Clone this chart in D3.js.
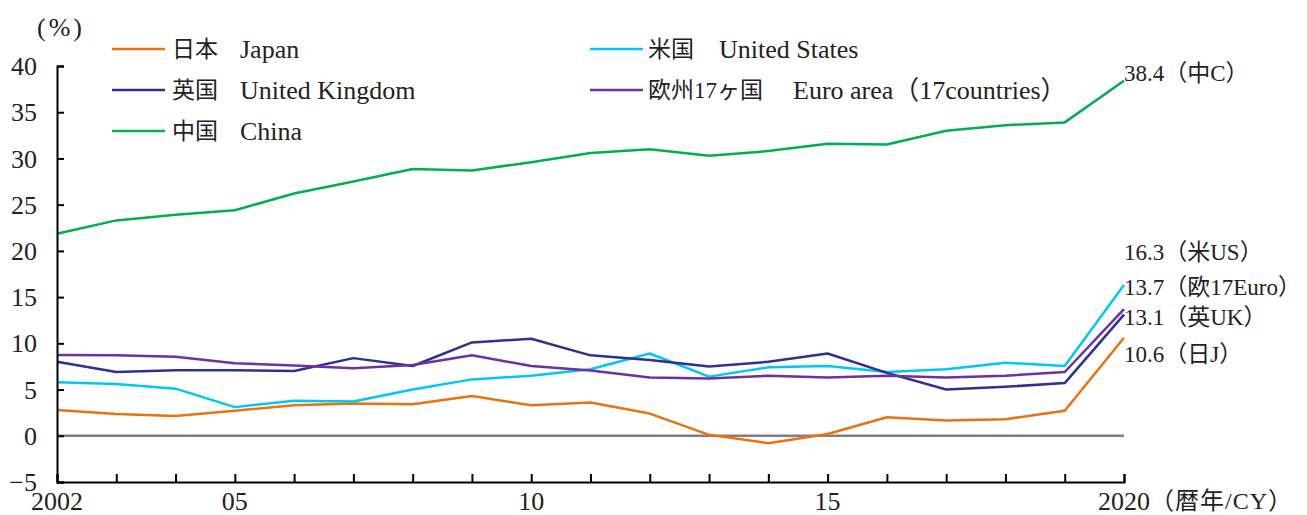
<!DOCTYPE html>
<html>
<head>
<meta charset="utf-8">
<script src="https://cdn.jsdelivr.net/npm/d3@7"></script>
<style>
  body { margin: 0; background: #fff; }
  svg text { font-family: "Liberation Serif", "Times New Roman", "DejaVu Serif", "Noto Sans CJK JP", serif; fill: #222; }
</style>
</head>
<body>
<div id="chart"></div>
<script>
// 年 (暦年)
const years = [2002, 2003, 2004, 2005, 2006, 2007, 2008, 2009, 2010, 2011, 2012, 2013, 2014, 2015, 2016, 2017, 2018, 2019, 2020];
// 系列の値 (%)
const japan = [2.8, 2.35, 2.15, 2.7, 3.3, 3.5, 3.4, 4.3, 3.3, 3.6, 2.4, 0.1, -0.8, 0.2, 2.0, 1.65, 1.8, 2.7, 10.6];
const us = [5.8, 5.6, 5.1, 3.1, 3.8, 3.7, 5.0, 6.1, 6.5, 7.2, 8.9, 6.4, 7.4, 7.55, 6.9, 7.2, 7.9, 7.55, 16.3];
const uk = [8.0, 6.9, 7.1, 7.1, 7.0, 8.4, 7.55, 10.1, 10.5, 8.7, 8.2, 7.5, 8.0, 8.9, 6.8, 5.0, 5.3, 5.7, 13.1];
const euro = [8.75, 8.7, 8.55, 7.85, 7.6, 7.3, 7.65, 8.7, 7.55, 7.05, 6.3, 6.2, 6.5, 6.3, 6.5, 6.3, 6.5, 6.9, 13.7];
const china = [21.85, 23.3, 23.9, 24.4, 26.2, 27.5, 28.85, 28.7, 29.6, 30.6, 31.0, 30.3, 30.8, 31.6, 31.5, 33.0, 33.6, 33.9, 38.4];

// 凡例・ラベル
const seriesNamesJa = ["日本", "米国", "英国", "欧州17ヶ国", "中国"];
const seriesNamesEn = ["Japan", "United States", "United Kingdom", "Euro area（17countries）", "China"];
const endLabels = ["10.6（日J）", "16.3（米US）", "13.1（英UK）", "13.7（欧17Euro）", "38.4（中C）"];
const endLabelAt = [8.9, 19.9, 12.8, 16.1, 39.3]; // ラベルの高さ (値の単位)
const colors = ["#E8730F", "#00C8F2", "#2E3192", "#7030A0", "#00B050"];

// 目盛り
const yTicks = [-5, 0, 5, 10, 15, 20, 25, 30, 35, 40];
const yTickLabels = ["−5", "0", "5", "10", "15", "20", "25", "30", "35", "40"];
const xLabelYears = [2002, 2005, 2010, 2015, 2020];
const xTickLabels = ["2002", "05", "10", "15", "2020"];

const allSeries = [japan, us, uk, euro, china];

const width = 1307, height = 515;
const margin = { left: 57, right: 183, top: 66, bottom: 33 };

const svg = d3.select("#chart").append("svg")
  .attr("width", width)
  .attr("height", height);

const x = d3.scaleLinear()
  .domain([2002, 2020])
  .range([margin.left, width - margin.right]);

const y = d3.scaleLinear()
  .domain([-5, 40])
  .range([height - margin.bottom, margin.top]);

// ゼロ線
svg.append("line")
  .attr("x1", x(2002)).attr("x2", x(2020))
  .attr("y1", y(0)).attr("y2", y(0))
  .attr("stroke", "#808080")
  .attr("stroke-width", 2.5);

// 系列の線
const line = d3.line()
  .x((d, i) => x(years[i]))
  .y(d => y(d));

allSeries.forEach((s, k) => {
  svg.append("path")
    .datum(s)
    .attr("fill", "none")
    .attr("stroke", colors[k])
    .attr("stroke-width", 2.5)
    .attr("stroke-linejoin", "round")
    .attr("d", line);
});

// Y軸
const yAxis = svg.append("g")
  .attr("transform", "translate(" + margin.left + ",0)")
  .call(d3.axisRight(y).tickValues(yTicks).tickSize(7).tickFormat(""));
yAxis.select(".domain").attr("stroke", "#000").attr("stroke-width", 2);
yAxis.selectAll(".tick line").attr("stroke", "#000").attr("stroke-width", 2);

yTicks.forEach((v, i) => {
  svg.append("text")
    .attr("x", 37)
    .attr("y", y(v))
    .attr("dy", "0.35em")
    .attr("text-anchor", "end")
    .style("font-size", "26px")
    .text(yTickLabels[i]);
});

svg.append("text")
  .attr("x", 37)
  .attr("y", 27)
  .attr("dy", "0.35em")
  .style("font-size", "26px")
  .style("letter-spacing", "3px")
  .text("(%)");

// X軸
const xAxis = svg.append("g")
  .attr("transform", "translate(0," + y(-5) + ")")
  .call(d3.axisTop(x).tickValues(years).tickSize(8).tickFormat(""));
xAxis.select(".domain").attr("stroke", "#000").attr("stroke-width", 2);
xAxis.selectAll(".tick line").attr("stroke", "#000").attr("stroke-width", 2);

xLabelYears.forEach((yr, i) => {
  svg.append("text")
    .attr("x", x(yr))
    .attr("y", 501)
    .attr("dy", "0.35em")
    .attr("text-anchor", "middle")
    .style("font-size", "26px")
    .text(xTickLabels[i]);
});

svg.append("text")
  .attr("x", x(2020) + 26)
  .attr("y", 501)
  .attr("dy", "0.35em")
  .style("font-size", "24px")
  .style("letter-spacing", "1px")
  .text("（暦年/CY）");

// 右端ラベル
endLabels.forEach((t, k) => {
  svg.append("text")
    .attr("x", x(2020))
    .attr("y", y(endLabelAt[k]))
    .attr("dy", "0.35em")
    .style("font-size", "23px")
    .text(t);
});

// 凡例
const legendPos = [
  { lx: 112, ty: 49, jaX: 172, enX: 240 },
  { lx: 590, ty: 49, jaX: 648, enX: 719 },
  { lx: 112, ty: 90, jaX: 172, enX: 240 },
  { lx: 590, ty: 90, jaX: 648, enX: 793 },
  { lx: 112, ty: 131, jaX: 172, enX: 240 }
];

legendPos.forEach((p, k) => {
  svg.append("line")
    .attr("x1", p.lx).attr("x2", p.lx + 53)
    .attr("y1", p.ty).attr("y2", p.ty)
    .attr("stroke", colors[k])
    .attr("stroke-width", 2.5);
  svg.append("text")
    .attr("x", p.jaX).attr("y", p.ty)
    .attr("dy", "0.35em")
    .style("font-size", "23px")
    .text(seriesNamesJa[k]);
  svg.append("text")
    .attr("x", p.enX).attr("y", p.ty)
    .attr("dy", "0.35em")
    .style("font-size", "26px")
    .text(seriesNamesEn[k]);
});
</script>
</body>
</html>
